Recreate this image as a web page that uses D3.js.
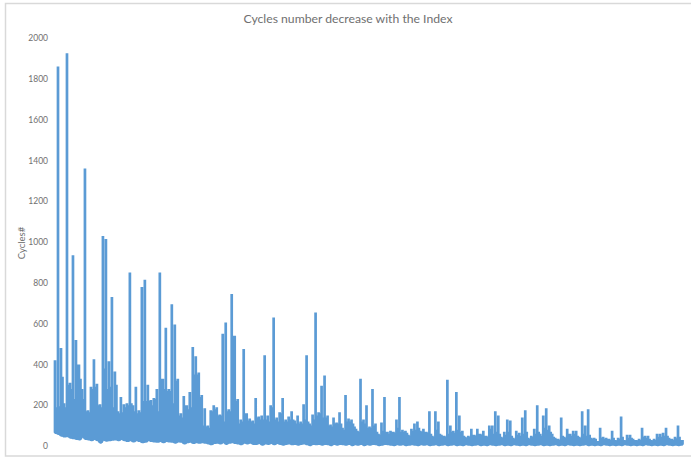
<!DOCTYPE html>
<html>
<head>
<meta charset="utf-8">
<script src="https://cdn.jsdelivr.net/npm/d3@7"></script>
<style>
  html, body { margin: 0; background: #fff; }
  text { font-family: Lato, sans-serif; fill: #707070; }
</style>
</head>
<body>
<div id="chart"></div>
<script>
const chartTitle = 'Cycles number decrease with the Index';
const yAxisTitle = 'Cycles#';
const yTicks = [0, 200, 400, 600, 800, 1000, 1200, 1400, 1600, 1800, 2000];

const highs = [
  420, 1860, 480, 210, 1925, 310, 935, 520, 400, 280,
  1360, 175, 290, 425, 305, 205, 1030, 1015, 415, 730,
  365, 170, 240, 205, 210, 850, 200, 290, 175, 780,
  815, 300, 225, 235, 280, 850, 330, 580, 280, 695,
  595, 330, 160, 245, 200, 265, 485, 440, 360, 250,
  185, 100, 175, 200, 190, 155, 550, 605, 180, 745,
  540, 230, 130, 475, 160, 135, 125, 235, 145, 150,
  445, 150, 200, 630, 140, 165, 235, 130, 145, 170,
  125, 150, 120, 205, 445, 110, 155, 655, 165, 295,
  345, 150, 105, 140, 115, 165, 90, 250, 135, 130,
  95, 75, 330, 130, 200, 95, 280, 110, 60, 115,
  240, 70, 75, 70, 130, 240, 80, 75, 55, 85,
  110, 120, 75, 85, 70, 170, 50, 170, 120, 55,
  50, 325, 100, 75, 265, 150, 75, 45, 50, 85,
  55, 85, 60, 75, 50, 100, 100, 170, 150, 45,
  70, 130, 125, 40, 75, 65, 140, 175, 40, 50,
  85, 200, 60, 150, 185, 100, 60, 40, 35, 140,
  45, 85, 60, 75, 75, 45, 170, 100, 180, 40,
  40, 25, 90, 45, 40, 35, 75, 30, 40, 145,
  30, 55, 55, 35, 30, 35, 90, 50, 50, 30,
  35, 60, 60, 65, 90, 40, 35, 45, 100, 30
];

// shorter swing between two tall ones
const mids = [
  190, 195, 340, 190, 300, 280, 230, 400, 330, 230,
  170, 165, 280, 290, 200, 190, 380, 280, 290, 190,
  300, 160, 165, 190, 200, 210, 170, 160, 165, 220,
  220, 220, 200, 230, 170, 330, 280, 270, 270, 210,
  320, 150, 140, 200, 180, 190, 350, 350, 240, 100,
  95, 90, 170, 180, 150, 150, 120, 170, 170, 540,
  220, 110, 120, 160, 125, 120, 110, 140, 130, 130,
  130, 120, 190, 130, 120, 160, 120, 120, 130, 130,
  110, 110, 110, 130, 120, 100, 130, 150, 160, 140,
  140, 100, 95, 110, 110, 110, 80, 120, 120, 110,
  85, 70, 120, 110, 90, 90, 100, 70, 55, 75,
  70, 60, 70, 65, 90, 70, 70, 65, 50, 75,
  80, 90, 70, 70, 65, 60, 45, 80, 60, 50,
  45, 60, 70, 65, 80, 70, 50, 40, 45, 55,
  50, 60, 55, 50, 45, 85, 60, 70, 60, 40,
  55, 70, 50, 35, 55, 50, 60, 70, 35, 45,
  60, 70, 50, 90, 80, 70, 45, 35, 30, 50,
  40, 60, 50, 60, 50, 40, 60, 50, 55, 35,
  35, 25, 40, 35, 35, 30, 40, 28, 35, 45,
  28, 40, 40, 30, 28, 30, 45, 40, 35, 28,
  30, 45, 45, 50, 50, 35, 30, 38, 45, 30
];

// bottom of each swing
const lows = [
  66, 60, 52, 48, 50, 42, 40, 36, 34, 48,
  36, 34, 30, 36, 30, 18, 32, 28, 30, 32,
  34, 30, 36, 30, 26, 30, 24, 30, 26, 20,
  22, 30, 26, 24, 22, 26, 20, 26, 24, 22,
  18, 24, 22, 14, 20, 22, 16, 20, 18, 20,
  18, 14, 10, 16, 18, 14, 20, 12, 18, 20,
  16, 14, 10, 18, 14, 18, 12, 12, 16, 8,
  14, 12, 16, 10, 16, 12, 8, 12, 14, 10,
  12, 8, 12, 14, 10, 6, 12, 10, 12, 8,
  12, 10, 6, 12, 8, 12, 10, 8, 12, 6,
  10, 8, 12, 6, 10, 8, 12, 10, 6, 8,
  12, 10, 8, 6, 10, 8, 10, 6, 8, 10,
  8, 6, 10, 8, 10, 6, 8, 10, 6, 8,
  10, 6, 8, 10, 6, 8, 6, 10, 8, 6,
  8, 10, 6, 8, 6, 10, 8, 6, 8, 10,
  6, 8, 6, 10, 8, 6, 8, 6, 10, 8,
  6, 8, 10, 6, 8, 6, 8, 10, 6, 8,
  6, 10, 8, 6, 8, 6, 8, 10, 6, 8,
  6, 8, 6, 10, 8, 6, 8, 6, 8, 6,
  10, 8, 6, 8, 6, 8, 6, 10, 8, 6,
  8, 6, 8, 6, 10, 8, 6, 8, 6, 8
];

const width = 691, height = 457;

// walk the columns: low, straight up to the value, straight back down
const points = highs.flatMap((h, i) => [
  [i, lows[i]], [i, h], [i, lows[i]],
  [i + 0.5, lows[i]], [i + 0.5, mids[i]], [i + 0.5, lows[i]]
]);

const svg = d3.select('#chart').append('svg')
  .attr('width', width)
  .attr('height', height)
  .style('display', 'block');

svg.append('rect')
  .attr('x', 5.5).attr('y', 3.5)
  .attr('width', 700).attr('height', 452.5)
  .attr('fill', '#fff')
  .attr('stroke', '#d9d9d9')
  .attr('stroke-width', 1.5);

const x = d3.scaleLinear().domain([0, highs.length - 0.5]).range([55, 682.5]);
const y = d3.scaleLinear().domain([0, 2000]).range([446, 38]);

const yAxis = d3.axisLeft(y).tickValues(yTicks).tickSize(0).tickPadding(0).tickFormat(d3.format('d'));
const yG = svg.append('g')
  .attr('transform', 'translate(48,0)')
  .call(yAxis);
yG.select('.domain').remove();
yG.selectAll('text').style('font-size', '8.5px');

svg.append('path')
  .datum(points)
  .attr('fill', 'none')
  .attr('stroke', '#5b9bd5')
  .attr('stroke-width', 2.7)
  .attr('stroke-linejoin', 'bevel')
  .attr('d', d3.line().x(d => x(d[0])).y(d => y(d[1])));

svg.append('text')
  .attr('x', 348).attr('y', 23)
  .attr('text-anchor', 'middle')
  .style('font-size', '12.2px')
  .text(chartTitle);

svg.append('text')
  .attr('transform', 'translate(25,243) rotate(-90)')
  .attr('text-anchor', 'middle')
  .style('font-size', '9.5px')
  .text(yAxisTitle);
</script>
</body>
</html>
